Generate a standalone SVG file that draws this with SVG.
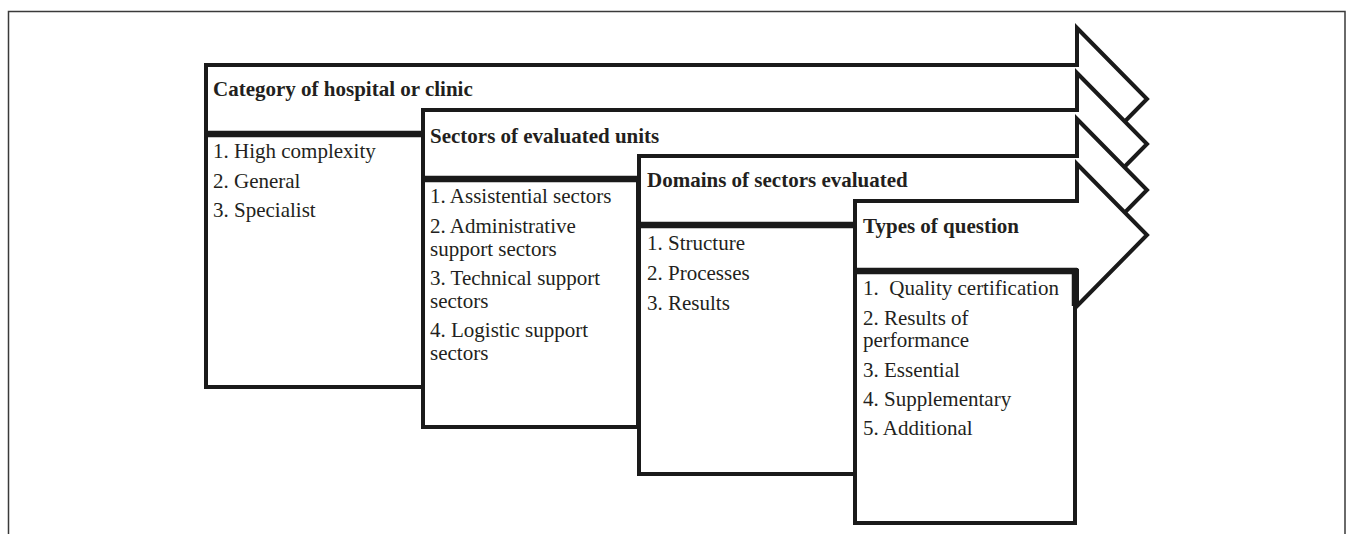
<svg xmlns="http://www.w3.org/2000/svg" width="1346" height="534" viewBox="0 0 1346 534">
  <style>
    .frame { fill: none; stroke: #3a3a3a; stroke-width: 1.5; }
    .arrow { fill: #fff; stroke: #1a1a1a; stroke-width: 4; stroke-linejoin: miter; stroke-miterlimit: 10; }
    .box { fill: #fff; stroke: #1a1a1a; stroke-width: 4; }
    .bar { stroke: #1a1a1a; stroke-width: 6.5; }
    .head { font-family: "Liberation Serif", "Times New Roman", serif; font-size: 21px; font-weight: bold; fill: #231f20; }
    .item { font-family: "Liberation Serif", "Times New Roman", serif; font-size: 21px; fill: #231f20; }
  </style>

  <!-- outer frame, open at the bottom -->
  <path class="frame" d="M8.5,534 V11.5 H1345 V534"/>

  <!-- stage 1: category of hospital or clinic -->
  <g id="category">
    <polygon class="arrow" points="206,65 1077,65 1077,28 1147,99 1077,170 1077,134 206,134"/>
    <rect class="box" x="206" y="134" width="217" height="253"/>
    <line class="bar" x1="204" y1="134" x2="423" y2="134"/>
    <text class="head" x="213" y="96">Category of hospital or clinic</text>
    <text class="item" x="213" y="158">1. High complexity</text>
    <text class="item" x="213" y="188">2. General</text>
    <text class="item" x="213" y="217">3. Specialist</text>
  </g>

  <!-- stage 2: sectors of evaluated units -->
  <g id="sectors">
    <polygon class="arrow" points="423,110 1077,110 1077,73 1147,144 1077,215 1077,179 423,179"/>
    <rect class="box" x="423" y="179" width="215" height="248"/>
    <line class="bar" x1="421" y1="179" x2="638" y2="179"/>
    <text class="head" x="430" y="143">Sectors of evaluated units</text>
    <text class="item" x="430" y="203">1. Assistential sectors</text>
    <text class="item" x="430" y="233">2. Administrative</text>
    <text class="item" x="430" y="256">support sectors</text>
    <text class="item" x="430" y="285">3. Technical support</text>
    <text class="item" x="430" y="308">sectors</text>
    <text class="item" x="430" y="337">4. Logistic support</text>
    <text class="item" x="430" y="360">sectors</text>
  </g>

  <!-- stage 3: domains of sectors evaluated -->
  <g id="domains">
    <polygon class="arrow" points="639,156 1077,156 1077,119 1147,190 1077,261 1077,225 639,225"/>
    <rect class="box" x="639" y="225" width="216" height="249"/>
    <line class="bar" x1="637" y1="225" x2="855" y2="225"/>
    <text class="head" x="647" y="187">Domains of sectors evaluated</text>
    <text class="item" x="647" y="250">1. Structure</text>
    <text class="item" x="647" y="280">2. Processes</text>
    <text class="item" x="647" y="310">3. Results</text>
  </g>

  <!-- stage 4: types of question -->
  <g id="question-types">
    <polygon class="arrow" points="855,201 1077,201 1077,164 1147,235 1077,306 1077,271 855,271"/>
    <rect class="box" x="855" y="271" width="220" height="252"/>
    <line class="bar" x1="853" y1="271" x2="1077" y2="271"/>
    <line class="bar" x1="1075" y1="268" x2="1075" y2="306"/>
    <text class="head" x="863" y="233">Types of question</text>
    <text class="item" x="863" y="295" xml:space="preserve">1.  Quality certification</text>
    <text class="item" x="863" y="325">2. Results of</text>
    <text class="item" x="863" y="347">performance</text>
    <text class="item" x="863" y="377">3. Essential</text>
    <text class="item" x="863" y="406">4. Supplementary</text>
    <text class="item" x="863" y="435">5. Additional</text>
  </g>

  <!-- connectors: the stages touch edge to edge, so no separate lines are drawn -->
  <g id="connectors"/>
</svg>
